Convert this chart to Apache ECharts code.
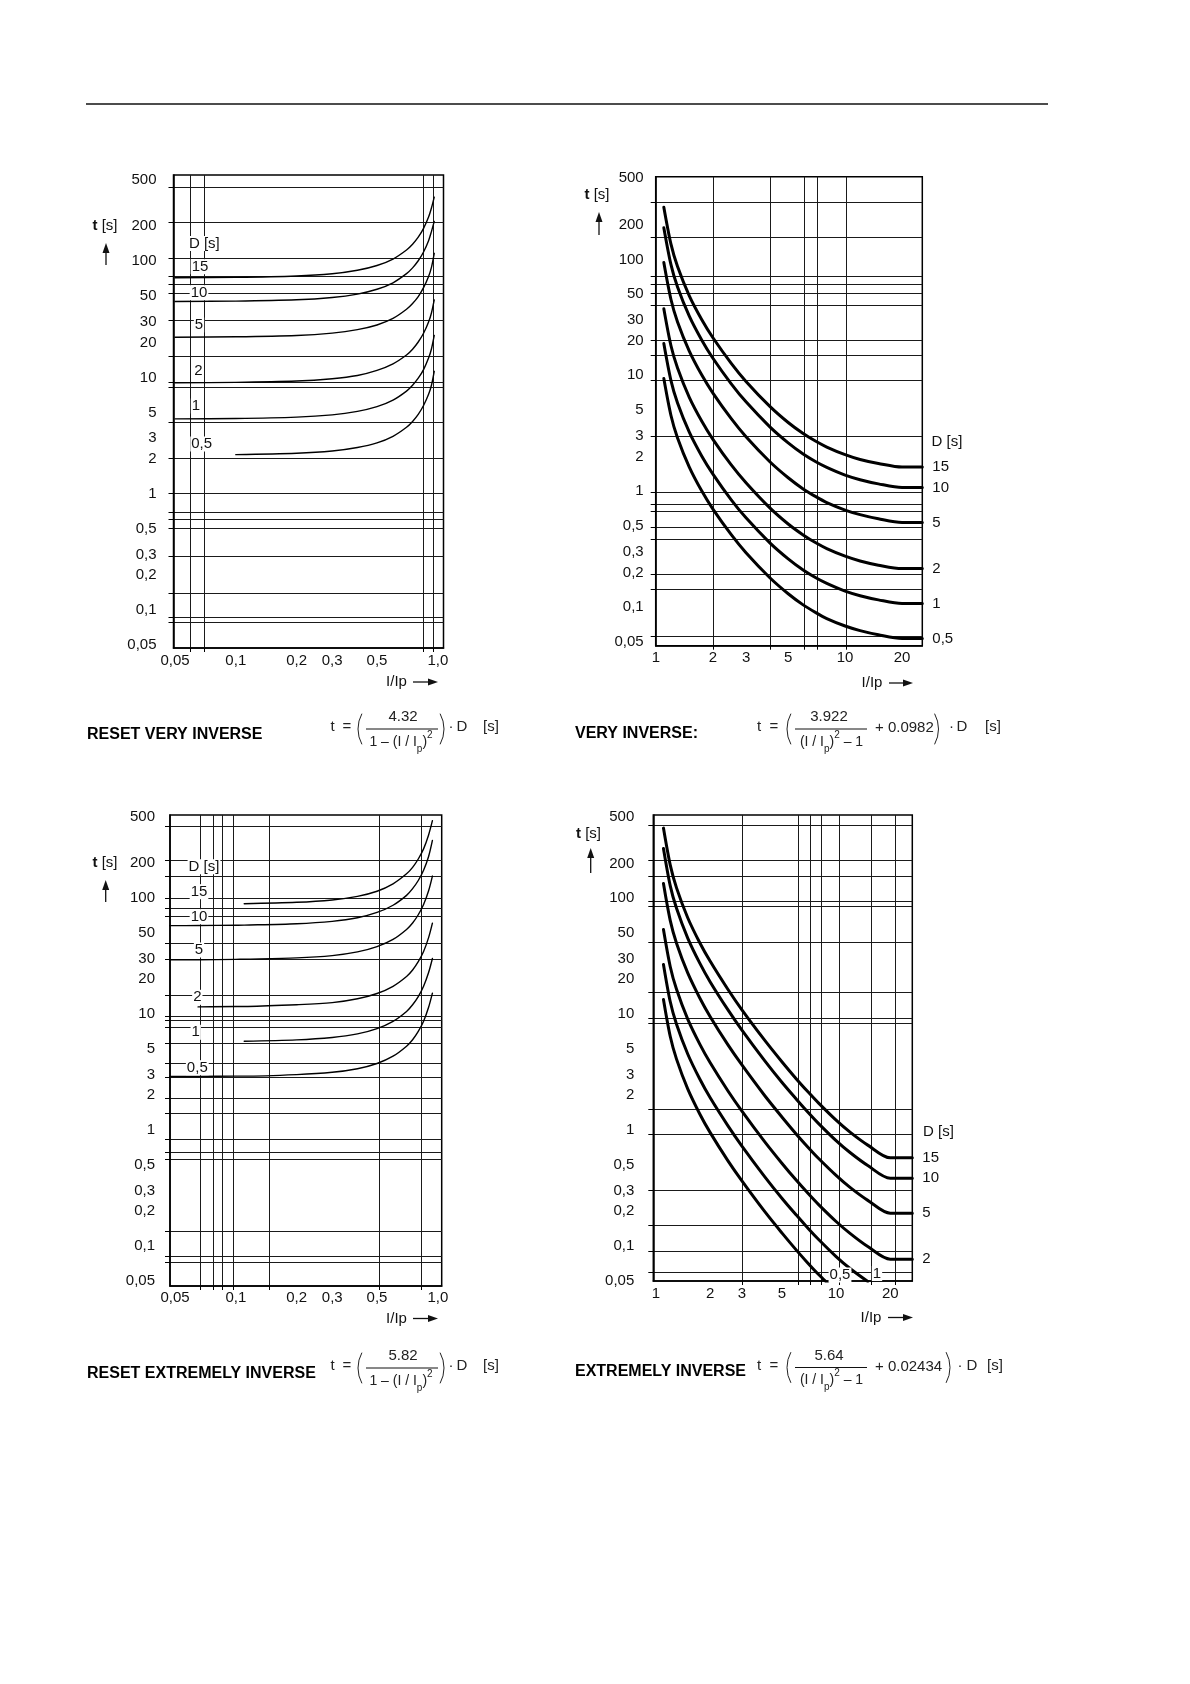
<!DOCTYPE html>
<html><head><meta charset="utf-8">
<script src="https://cdn.jsdelivr.net/npm/echarts@6/dist/echarts.min.js"></script>
<style>html,body{margin:0;padding:0;background:#fff}#c{width:1190px;height:1684px}</style>
</head><body><div id="c"></div>
<script>
// ---------- tick labels ----------
const yLabelValues = [500, 200, 100, 50, 30, 20, 10, 5, 3, 2, 1, 0.5, 0.3, 0.2, 0.1, 0.05];
const resetXLabelValues = [0.05, 0.1, 0.2, 0.3, 0.5, 1.0];
const invXLabelValues = [1, 2, 3, 5, 10, 20];
const dValues = [15, 10, 5, 2, 1, 0.5];

// ---------- grid lines as drawn on the original sheet ----------
const rviGridX = [0.0593, 0.0696, 0.846, 0.951];
const rviGridY = [435, 218, 107, 73.6, 63.5, 53.3, 31.2, 15.3, 9.1, 8.3, 4.1, 2.0, 1.0, 0.69, 0.60, 0.50, 0.29, 0.14, 0.087, 0.079];
const viGridX = [2.0, 4.04, 6.07, 7.11, 10.1];
const viGridY = [308, 154, 71, 61.4, 51, 40.2, 20, 14.8, 9.0, 2.96, 0.98, 0.77, 0.68, 0.486, 0.39, 0.193, 0.143, 0.0566];
const reiGridX = [0.067, 0.0769, 0.0861, 0.0966, 0.146, 0.51, 0.83];
const reiGridY = [416, 209, 154, 100, 81, 70, 41, 29.5, 14.5, 9.56, 8.83, 7.74, 5.64, 3.79, 2.83, 1.89, 1.39, 0.83, 0.647, 0.557, 0.135, 0.0816, 0.072];
const eiGridX = [3.02, 6.17, 7.17, 8.22, 10.4, 15.6, 21.3];
const eiGridY = [423, 211, 154, 93.5, 84.7, 41.8, 15.4, 9.25, 8.38, 1.52, 0.925, 0.306, 0.151, 0.09, 0.06];

// ---------- RESET VERY INVERSE (I/Ip, t[s]) ----------
const rviX   = [0.05, 0.1, 0.2, 0.3, 0.4, 0.5, 0.6, 0.7, 0.75, 0.8, 0.85, 0.9, 0.93, 0.96];
const rviD15 = [72.1, 72.6, 74.6, 78.0, 83.6, 91.9, 104.5, 125, 140, 161, 192, 240, 287, 356];
const rviD10 = [45.1, 45.4, 46.6, 48.8, 52.2, 57.4, 65.3, 78.2, 87.7, 101, 120, 150, 180, 220];
const rviD5  = [22.2, 22.4, 23.0, 24.1, 25.8, 28.3, 32.2, 38.6, 43.3, 49.7, 59.3, 73.9, 88.6, 117];
const rviD2  = [9.02, 9.08, 9.32, 9.76, 10.4, 11.5, 13.1, 15.6, 17.5, 20.2, 24.0, 30.0, 35.9, 46.5];
const rviD1  = [4.41, 4.44, 4.56, 4.77, 5.11, 5.61, 6.39, 7.64, 8.58, 9.86, 11.7, 14.7, 17.6, 23.0];
const rviD05 = [null, 2.17, 2.23, 2.33, 2.50, 2.74, 3.12, 3.73, 4.19, 4.82, 5.74, 7.16, 8.58, 11.3];

// ---------- VERY INVERSE ----------
const viX   = [1.1, 1.2, 1.3, 1.5, 1.75, 2, 2.5, 3, 4, 5, 6, 7, 8, 10, 12, 15, 20, 25.6];
const viD15 = [281.6, 135.2, 86.7, 48.5, 30.0, 21.1, 12.7, 8.82, 5.40, 3.92, 3.15, 2.70, 2.41, 2.07, 1.88, 1.74, 1.62, 1.62];
const viD10 = [187.7, 90.1, 57.8, 32.4, 20.0, 14.05, 8.45, 5.88, 3.60, 2.62, 2.10, 1.80, 1.61, 1.38, 1.26, 1.16, 1.08, 1.08];
const viD5  = [93.9, 45.1, 28.9, 16.2, 10.0, 7.03, 4.23, 2.94, 1.80, 1.31, 1.05, 0.90, 0.80, 0.69, 0.63, 0.58, 0.54, 0.54];
const viD2  = [37.5, 18.0, 11.6, 6.47, 4.0, 2.81, 1.69, 1.18, 0.72, 0.523, 0.421, 0.360, 0.321, 0.276, 0.251, 0.231, 0.216, 0.216];
const viD1  = [18.8, 9.01, 5.78, 3.24, 2.0, 1.41, 0.845, 0.588, 0.360, 0.262, 0.210, 0.180, 0.161, 0.138, 0.126, 0.116, 0.108, 0.108];
const viD05 = [9.39, 4.51, 2.89, 1.62, 1.0, 0.703, 0.423, 0.294, 0.180, 0.131, 0.105, 0.090, 0.080, 0.069, 0.063, 0.058, 0.054, 0.054];

// ---------- RESET EXTREMELY INVERSE ----------
const reiX   = [0.047, 0.065, 0.1, 0.11, 0.2, 0.3, 0.4, 0.5, 0.6, 0.7, 0.75, 0.8, 0.85, 0.9, 0.94];
const reiD15 = [null, null, null, 89.0, 91.5, 95.9, 103, 114, 132, 161, 183, 216, 264, 348, 462];
const reiD10 = [57.6, 57.7, 58.1, 58.2, 59.8, 62.7, 67.3, 74.8, 86.3, 105, 120, 141, 173, 227, 312];
const reiD5  = [29.3, 29.3, 29.5, 29.6, 30.4, 31.8, 34.2, 38.0, 43.8, 53.4, 60.7, 71.5, 87.6, 115, 154];
const reiD2  = [null, 11.5, 11.6, 11.6, 12.0, 12.5, 13.5, 15.0, 17.3, 21.0, 23.9, 28.2, 34.5, 45.4, 60.5];
const reiD1  = [null, null, null, 5.82, 5.98, 6.27, 6.73, 7.48, 8.63, 10.5, 12.0, 14.1, 17.3, 22.7, 30.0];
const reiD05 = [2.89, 2.89, 2.91, 2.91, 3.0, 3.14, 3.37, 3.74, 4.32, 5.27, 5.99, 7.06, 8.64, 11.4, 15.1];

// ---------- EXTREMELY INVERSE ----------
const eiX   = [1.1, 1.2, 1.3, 1.5, 1.75, 2, 2.5, 3, 4, 5, 6, 7, 8, 10, 12, 15, 20, 26.5];
const eiD15 = [403, 193, 123, 68.0, 41.4, 28.6, 16.5, 10.9, 6.00, 3.89, 2.78, 2.13, 1.71, 1.22, 0.957, 0.743, 0.577, 0.577];
const eiD10 = [269, 128, 82.0, 45.4, 27.6, 19.0, 11.0, 7.29, 4.00, 2.59, 1.86, 1.42, 1.14, 0.813, 0.638, 0.495, 0.385, 0.385];
const eiD5  = [134, 64.2, 41.0, 22.7, 13.8, 9.52, 5.49, 3.65, 2.00, 1.30, 0.928, 0.709, 0.569, 0.407, 0.319, 0.248, 0.192, 0.192];
const eiD2  = [53.8, 25.7, 16.4, 9.07, 5.52, 3.81, 2.20, 1.46, 0.801, 0.519, 0.371, 0.284, 0.228, 0.163, 0.128, 0.099, 0.077, 0.077];
const eiD1  = [26.9, 12.8, 8.20, 4.54, 2.76, 1.90, 1.10, 0.729, 0.400, 0.259, 0.186, 0.142, 0.114, 0.0813, 0.0638, 0.0495, null, null];
const eiD05 = [13.4, 6.42, 4.10, 2.27, 1.38, 0.952, 0.549, 0.365, 0.200, 0.130, 0.0928, 0.0709, 0.0569, 0.0407, null, null, null, null];

// ---------- helpers ----------
const L = Math.log10;
const FONT = 'Liberation Sans, Arial, sans-serif';
const INK = '#111';
function back(v) { return parseFloat(Math.pow(10, v).toPrecision(4)); }
function dec(n) { return String(n).replace('.', ','); }
function resetXFmt(v) { const n = back(v); return n === 1 ? '1,0' : dec(n); }
function plainFmt(v) { return dec(back(v)); }
function pairs(xs, ys) {
  const out = [];
  xs.forEach((x, i) => { if (ys[i] != null) out.push([L(x), L(ys[i])]); });
  return out;
}

const chart = echarts.init(document.getElementById('c'), null, {width: 1190, height: 1684});

const grids = [
  {left: 173.5, top: 175, width: 270, height: 473},
  {left: 655.7, top: 176.7, width: 266.6, height: 469},
  {left: 170, top: 815, width: 271.7, height: 471},
  {left: 653.3, top: 815, width: 259, height: 466}
];
const xRanges = [[0.04916, 1.067], [0.9964, 25.6], [0.0472, 1.045], [0.966, 26.5]];
const yRanges = [[0.0471, 552], [0.0467, 516], [0.0453, 517], [0.05, 523]];
const xGrids = [rviGridX, viGridX, reiGridX, eiGridX];
const yGrids = [rviGridY, viGridY, reiGridY, eiGridY];
const xLabels = [resetXLabelValues, invXLabelValues, resetXLabelValues, invXLabelValues];
const xFmts = [resetXFmt, plainFmt, resetXFmt, plainFmt];
const yMargins = [17, 12, 15, 19];
const xMargins = [5, 5, 4, 5];

const xAxes = [], yAxes = [];
for (let i = 0; i < 4; i++) {
  xAxes.push({
    type: 'value', gridIndex: i, min: L(xRanges[i][0]), max: L(xRanges[i][1]),
    axisLine: {show: true, onZero: false, lineStyle: {color: '#000', width: 1.5}},
    axisTick: {show: true, customValues: xGrids[i].map(L), length: 4, lineStyle: {color: '#000', width: 1}},
    axisLabel: {show: true, customValues: xLabels[i].map(L), formatter: xFmts[i], margin: xMargins[i],
      fontSize: 15, fontFamily: FONT, color: INK},
    splitLine: {show: true, lineStyle: {color: '#1a1a1a', width: 1}}
  });
  yAxes.push({
    type: 'value', gridIndex: i, min: L(yRanges[i][0]), max: L(yRanges[i][1]),
    axisLine: {show: true, onZero: false, lineStyle: {color: '#000', width: 1.5}},
    axisTick: {show: true, customValues: yGrids[i].map(L), length: 5, lineStyle: {color: '#000', width: 1}},
    axisLabel: {show: true, customValues: yLabelValues.map(L), formatter: plainFmt, margin: yMargins[i],
      fontSize: 15, fontFamily: FONT, color: INK},
    splitLine: {show: true, lineStyle: {color: '#1a1a1a', width: 1}}
  });
}

const curveSets = [
  {x: rviX, ys: [rviD15, rviD10, rviD5, rviD2, rviD1, rviD05], width: 1.4, end: false},
  {x: viX, ys: [viD15, viD10, viD5, viD2, viD1, viD05], width: 3, end: true},
  {x: reiX, ys: [reiD15, reiD10, reiD5, reiD2, reiD1, reiD05], width: 1.4, end: false},
  {x: eiX, ys: [eiD15, eiD10, eiD5, eiD2, eiD1, eiD05], width: 3, end: true}
];
const series = [];
curveSets.forEach((set, gi) => {
  set.ys.forEach((ys, k) => {
    const showEnd = set.end && !(gi === 3 && k >= 4);
    series.push({
      type: 'line', xAxisIndex: gi, yAxisIndex: gi, name: 'D=' + dValues[k],
      data: pairs(set.x, ys), showSymbol: false, smooth: 0.3,
      clip: true, silent: true, z: 5,
      lineStyle: {color: '#000', width: set.width, cap: 'round', join: 'round'},
      endLabel: {show: showEnd, formatter: () => dec(dValues[k]), distance: 10,
        fontSize: 15, fontFamily: FONT, color: INK}
    });
  });
});

// ---------- graphic texts ----------
const G = [];
function txt(x, y, text, o) {
  o = o || {};
  G.push({type: 'text', z: 50, style: Object.assign({
    x: x, y: y, text: text, fill: INK, fontSize: 15, fontFamily: FONT,
    align: 'center', verticalAlign: 'middle'}, o)});
}
function seg(x1, y1, x2, y2, w) {
  G.push({type: 'line', z: 50, shape: {x1, y1, x2, y2}, style: {stroke: '#111', lineWidth: w || 1}});
}
function arrowRight(x1, x2, y) {
  seg(x1, y, x2 - 7, y, 1.3);
  G.push({type: 'polygon', z: 50, shape: {points: [[x2, y], [x2 - 10, y - 3.5], [x2 - 10, y + 3.5]]}, style: {fill: '#111'}});
}
function arrowUp(x, y1, y2) {
  seg(x, y1, x, y2 + 7, 1.3);
  G.push({type: 'polygon', z: 50, shape: {points: [[x, y2], [x - 3.5, y2 + 10], [x + 3.5, y2 + 10]]}, style: {fill: '#111'}});
}
function paren(xEdge, cy, left) {
  const r = 32;
  G.push({type: 'arc', z: 50,
    shape: left ? {cx: xEdge + r, cy: cy, r: r, startAngle: Math.PI - 0.5, endAngle: Math.PI + 0.5}
                : {cx: xEdge - r, cy: cy, r: r, startAngle: -0.5, endAngle: 0.5},
    style: {stroke: '#222', lineWidth: 1, fill: null}});
}
const richDen = {
  a: {fontSize: 14, fontFamily: FONT, fill: '#222', lineHeight: 24},
  s: {fontSize: 10, fontFamily: FONT, fill: '#222', lineHeight: 10, verticalAlign: 'bottom'},
  u: {fontSize: 10, fontFamily: FONT, fill: '#222', lineHeight: 10, verticalAlign: 'top'}
};
function resetFormula(dy, num) {
  txt(332.5, 727 + dy, 't', {fill: '#222'});
  txt(347, 727 + dy, '=', {fill: '#222'});
  paren(358, 729 + dy, true);
  txt(403, 717 + dy, num, {fill: '#222'});
  seg(366, 729 + dy, 438, 729 + dy, 1);
  txt(401, 742 + dy, '{a|1 – (I / I}{s|p}{a|)}{u|2}', {rich: richDen});
  paren(444, 729 + dy, false);
  txt(451, 727 + dy, '·', {fill: '#222'});
  txt(462, 727 + dy, 'D', {fill: '#222'});
  txt(491, 727 + dy, '[s]', {fill: '#222'});
}
function invFormula(dy, num, add, rpar, dotX, dX, sX) {
  txt(759, 727 + dy, 't', {fill: '#222'});
  txt(774, 727 + dy, '=', {fill: '#222'});
  paren(787, 729 + dy, true);
  txt(829, 717 + dy, num, {fill: '#222'});
  seg(795, 729 + dy, 867, 729 + dy, 1);
  txt(831.5, 742 + dy, '{a|(I / I}{s|p}{a|)}{u|2}{a| – 1}', {rich: richDen});
  txt(875, 728 + dy, add, {fill: '#222', align: 'left'});
  paren(rpar, 729 + dy, false);
  txt(dotX, 727 + dy, '·', {fill: '#222'});
  txt(dX, 727 + dy, 'D', {fill: '#222'});
  txt(sX, 727 + dy, '[s]', {fill: '#222'});
}

// header rule
seg(86, 104, 1048, 104, 1.6);

// chart titles
txt(87, 735, 'RESET VERY INVERSE', {align: 'left', fontWeight: 'bold', fontSize: 16, fill: '#000'});
txt(575, 733.5, 'VERY INVERSE:', {align: 'left', fontWeight: 'bold', fontSize: 16, fill: '#000'});
txt(87, 1373.5, 'RESET EXTREMELY INVERSE', {align: 'left', fontWeight: 'bold', fontSize: 16, fill: '#000'});
txt(575, 1372, 'EXTREMELY INVERSE', {align: 'left', fontWeight: 'bold', fontSize: 16, fill: '#000'});

// formulas
resetFormula(0, '4.32');
invFormula(0, '3.922', '+ 0.0982', 938.5, 951.5, 962, 993);
resetFormula(639, '5.82');
invFormula(638.5, '5.64', '+ 0.02434', 950, 960, 972, 995);

// t [s] and arrows
const richT = {b: {fontWeight: 'bold', fontSize: 15, fontFamily: FONT, fill: INK}, n: {fontSize: 15, fontFamily: FONT, fill: INK}};
txt(105, 226, '{b|t} {n|[s]}', {rich: richT});
arrowUp(106, 265, 243);
txt(597, 195, '{b|t} {n|[s]}', {rich: richT});
arrowUp(599, 235, 212);
txt(105, 863, '{b|t} {n|[s]}', {rich: richT});
arrowUp(105.7, 902, 880);
txt(588.5, 833.5, '{b|t} {n|[s]}', {rich: richT});
arrowUp(590.7, 873, 848);

// I/Ip arrows
txt(396.5, 682, 'I/Ip');
arrowRight(413, 438, 682);
txt(872, 683, 'I/Ip');
arrowRight(889, 913, 683);
txt(396.5, 1318.5, 'I/Ip');
arrowRight(413, 438, 1318.5);
txt(871, 1317.5, 'I/Ip');
arrowRight(888, 913, 1317.5);

// D labels (left side charts) with white masks
const wb = {backgroundColor: '#fff', padding: [0, 1, 0, 1]};
txt(204.3, 243.5, 'D [s]', wb);
txt(200, 266.7, '15', wb);
txt(199, 292.7, '10', wb);
txt(199, 325, '5', wb);
txt(198.3, 370.7, '2', wb);
txt(196, 406, '1', wb);
txt(201.7, 444, '0,5', wb);

txt(204, 866.7, 'D [s]', wb);
txt(199, 891.7, '15', wb);
txt(199, 916.7, '10', wb);
txt(199, 950, '5', wb);
txt(197.3, 997.3, '2', wb);
txt(195.7, 1032.3, '1', wb);
txt(197.3, 1067.7, '0,5', wb);

txt(947, 442, 'D [s]');
txt(938.5, 1132, 'D [s]');
txt(840, 1275, '0,5', wb);
txt(877, 1273.5, '1', wb);

chart.setOption({
  backgroundColor: '#fff',
  animation: false,
  grid: grids.map(g => Object.assign({show: true, borderColor: '#000', borderWidth: 1.5, backgroundColor: 'transparent', containLabel: false}, g)),
  xAxis: xAxes,
  yAxis: yAxes,
  series: series,
  graphic: G
});
</script>
</body></html>
